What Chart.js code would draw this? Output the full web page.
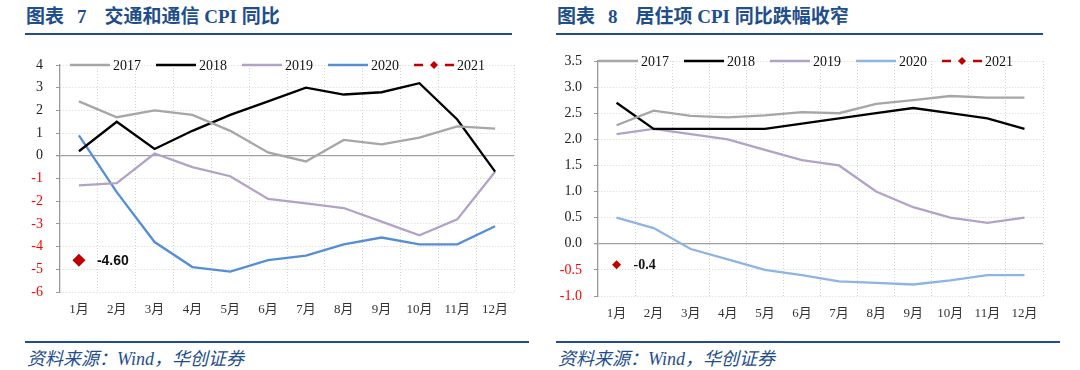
<!DOCTYPE html>
<html>
<head>
<meta charset="utf-8">
<script src="https://cdn.jsdelivr.net/npm/chart.js@4.4.1/dist/chart.umd.min.js"></script>
<style>
body { margin: 0; width: 1080px; height: 370px; background: #fff; position: relative; overflow: hidden; font-family: "Liberation Serif", "Noto Sans CJK SC", serif; }
.title { position: absolute; top: 5px; font-size: 19px; line-height: 24px; font-weight: bold; color: #1f4e8c; white-space: nowrap; }
.rule { position: absolute; height: 2px; background: #1f4e8c; }
.src { position: absolute; top: 348px; font-size: 18px; line-height: 22px; font-style: italic; color: #1f4e8c; white-space: nowrap; }
.box { position: absolute; top: 40px; width: 540px; height: 300px; }
</style>
</head>
<body>
<div class="title" style="left:26px"><span>图表</span><span style="margin-left:13px">7</span><span style="margin-left:18px">交通和通信 CPI 同比</span></div>
<div class="rule" style="left:25px;width:487px;top:33px"></div>
<div class="box" style="left:0"><canvas id="c1"></canvas></div>
<div class="rule" style="left:25px;width:504px;top:341px"></div>
<div class="src" style="left:27px">资料来源：Wind，华创证券</div>

<div class="title" style="left:557px"><span>图表</span><span style="margin-left:13px">8</span><span style="margin-left:18px">居住项 CPI 同比跌幅收窄</span></div>
<div class="rule" style="left:556px;width:487px;top:33px"></div>
<div class="box" style="left:540px"><canvas id="c2"></canvas></div>
<div class="rule" style="left:556px;width:504px;top:341px"></div>
<div class="src" style="left:558px">资料来源：Wind，华创证券</div>

<script>
const months = ['1月', '2月', '3月', '4月', '5月', '6月', '7月', '8月', '9月', '10月', '11月', '12月'];
const years = ['2017', '2018', '2019', '2020', '2021'];

// 交通和通信 CPI 同比 (%)
const transport2017 = [2.4, 1.7, 2.0, 1.8, 1.1, 0.15, -0.25, 0.7, 0.5, 0.8, 1.3, 1.2];
const transport2018 = [0.2, 1.5, 0.3, 1.1, 1.8, 2.4, 3.0, 2.7, 2.8, 3.2, 1.6, -0.7];
const transport2019 = [-1.3, -1.2, 0.1, -0.5, -0.9, -1.9, -2.1, -2.3, -2.9, -3.5, -2.8, -0.7];
const transport2020 = [0.9, -1.6, -3.8, -4.9, -5.1, -4.6, -4.4, -3.9, -3.6, -3.9, -3.9, -3.1];
const transport2021 = [-4.6];

// 居住项 CPI 同比 (%)
const housing2017 = [2.27, 2.55, 2.45, 2.42, 2.46, 2.52, 2.5, 2.68, 2.75, 2.83, 2.8, 2.8];
const housing2018 = [2.7, 2.2, 2.2, 2.2, 2.2, 2.3, 2.4, 2.5, 2.6, 2.5, 2.4, 2.2];
const housing2019 = [2.1, 2.2, 2.1, 2.0, 1.8, 1.6, 1.5, 1.0, 0.7, 0.5, 0.4, 0.5];
const housing2020 = [0.5, 0.3, -0.1, -0.3, -0.5, -0.6, -0.72, -0.75, -0.78, -0.7, -0.6, -0.6];
const housing2021 = [-0.4];

const red21 = '#c00000';
const gridDot = '#d6d6c8';

// legend drawn inside plot, on the top gridline
const yearLegend = {
    id: 'yearLegend',
    afterDraw(chart, args, o) {
        const ctx = chart.ctx;
        const a = chart.chartArea;
        let x = a.left + o.start;
        const y = a.top;
        ctx.save();
        ctx.font = '14px "Liberation Serif"';
        ctx.textBaseline = 'middle';
        chart.data.datasets.forEach(ds => {
            ctx.strokeStyle = ds.borderColor;
            ctx.lineWidth = 2.5;
            ctx.beginPath();
            if (ds.showLine === false) {
                ctx.moveTo(x, y); ctx.lineTo(x + 9, y);
                ctx.moveTo(x + 31, y); ctx.lineTo(x + 40, y);
                ctx.stroke();
                ctx.fillStyle = ds.borderColor;
                ctx.beginPath();
                ctx.moveTo(x + 20, y - 4); ctx.lineTo(x + 24, y); ctx.lineTo(x + 20, y + 4); ctx.lineTo(x + 16, y);
                ctx.closePath(); ctx.fill();
            } else {
                ctx.moveTo(x, y); ctx.lineTo(x + 40, y);
                ctx.stroke();
            }
            ctx.fillStyle = '#111';
            ctx.fillText(ds.label, x + 43, y + 1);
            x += o.step;
        });
        ctx.restore();
    }
};

// value label next to the 2021 point
const pointLabel = {
    id: 'pointLabel',
    afterDatasetsDraw(chart, args, o) {
        const meta = chart.getDatasetMeta(4);
        const p = meta.data[0];
        const ds = chart.data.datasets[4];
        const ctx = chart.ctx;
        ctx.save();
        ctx.font = o.font;
        ctx.fillStyle = '#111';
        ctx.textBaseline = 'middle';
        ctx.fillText(ds.data[0].toFixed(o.digits), p.x + o.dx, p.y + 1);
        ctx.restore();
    }
};

function makeChart(id, series, colors, cfg) {
    const datasets = series.slice(0, 4).map((d, i) => ({
        label: years[i],
        data: d,
        borderColor: colors[i],
        backgroundColor: colors[i],
        borderWidth: 2.3,
        pointRadius: 0,
        tension: 0
    }));
    datasets.push({
        label: years[4],
        data: series[4],
        borderColor: red21,
        backgroundColor: red21,
        borderDash: [6, 4],
        showLine: false,
        pointStyle: 'rectRot',
        pointRadius: cfg.dot,
        pointBorderWidth: 0
    });
    return new Chart(document.getElementById(id), {
        type: 'line',
        data: { labels: months, datasets: datasets },
        plugins: [yearLegend, pointLabel],
        options: {
            responsive: true,
            maintainAspectRatio: false,
            animation: false,
            layout: { padding: cfg.padding },
            plugins: {
                legend: { display: false },
                tooltip: { enabled: false },
                yearLegend: { start: cfg.legendStart, step: cfg.legendStep },
                pointLabel: { font: cfg.labelFont, dx: cfg.labelDx, digits: cfg.digits }
            },
            scales: {
                x: {
                    offset: true,
                    grid: { offset: true, color: gridDot, drawTicks: false },
                    border: { display: false, dash: [1, 2] },
                    ticks: { color: '#333', padding: 10, maxRotation: 0, autoSkip: false, font: { family: '"Liberation Serif", "Noto Sans CJK SC"', size: 13 } },
                    afterFit: s => { s.height = 30; }
                },
                y: {
                    min: cfg.min,
                    max: cfg.max,
                    ticks: {
                        stepSize: cfg.step,
                        padding: cfg.tickPad,
                        color: c => c.tick.value < 0 ? '#ff0000' : '#222',
                        font: { family: '"Liberation Serif"', size: 14 },
                        callback: v => cfg.digits === 1 ? v.toFixed(1) : String(v)
                    },
                    grid: {
                        color: c => (c.tick && c.tick.value === 0) ? '#a0a0a0' : gridDot,
                        lineWidth: c => (c.tick && c.tick.value === 0) ? 1.3 : 1,
                        tickColor: '#999',
                        tickLength: 4
                    },
                    border: { color: '#999', width: 1.3, dash: c => (c.tick && c.tick.value === 0) ? [] : [1, 2] },
                    afterFit: s => { s.width = cfg.yWidth; }
                }
            }
        }
    });
}

makeChart('c1', [transport2017, transport2018, transport2019, transport2020, transport2021],
    ['#a6a6a6', '#000000', '#b3a2c7', '#558ed5'], {
        min: -6, max: 4, step: 1, digits: 2, tickPad: 13, yWidth: 60,
        padding: { left: 0, right: 26, top: 25, bottom: 18 },
        legendStart: 10, legendStep: 86, dot: 6.5,
        labelFont: 'bold 14px "Liberation Sans"', labelDx: 18
    });

makeChart('c2', [housing2017, housing2018, housing2019, housing2020, housing2021],
    ['#a6a6a6', '#000000', '#b3a2c7', '#8eb4e3'], {
        min: -1, max: 3.5, step: 0.5, digits: 1, tickPad: 12, yWidth: 58,
        padding: { left: 0, right: 37, top: 21, bottom: 14 },
        legendStart: 0, legendStep: 86, dot: 4.5,
        labelFont: 'bold 14px "Liberation Serif"', labelDx: 17
    });
</script>
</body>
</html>
